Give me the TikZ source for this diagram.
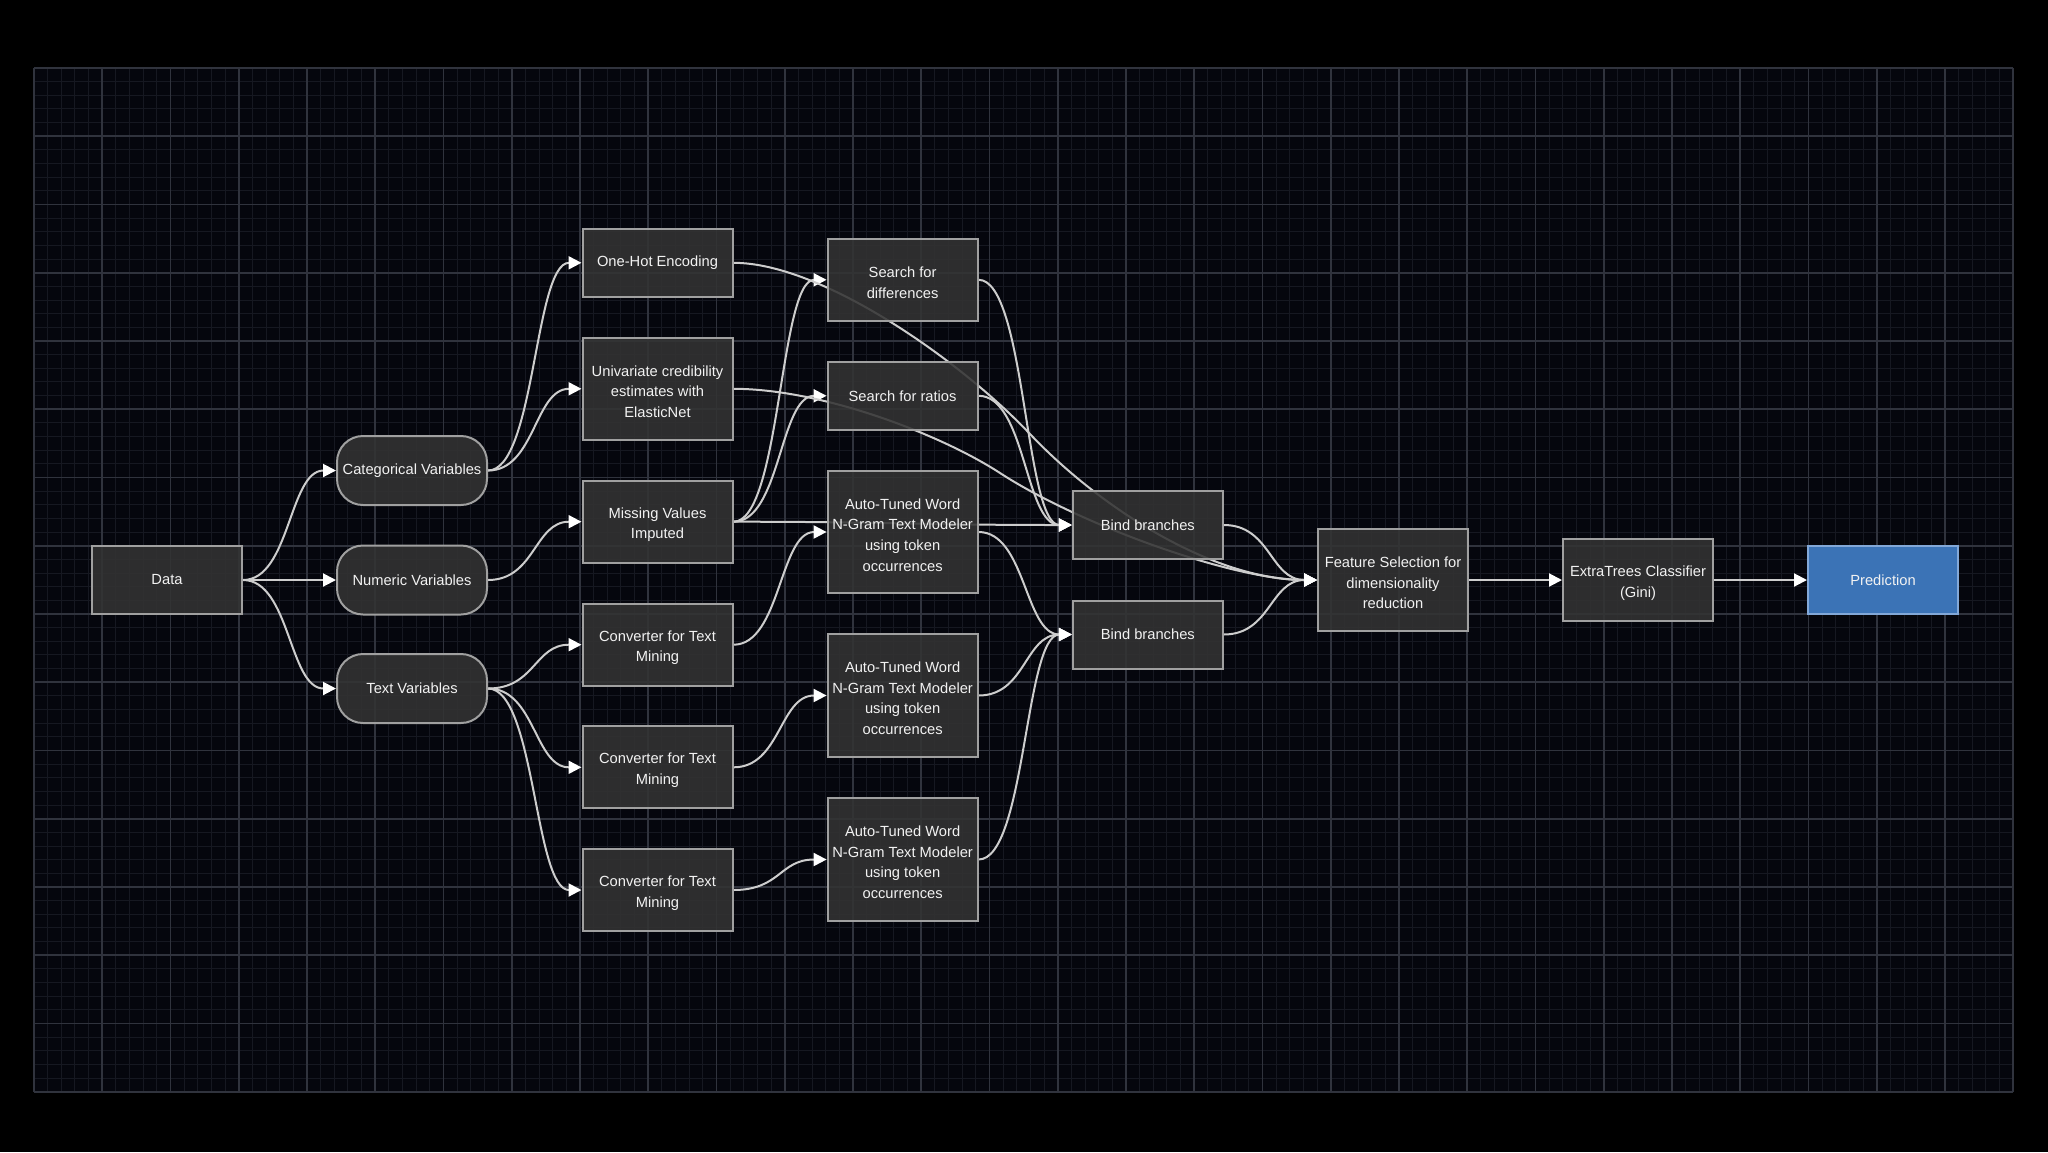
\documentclass[tikz,border=0pt]{standalone}
\usepackage{fontspec}
\setmainfont{Liberation Sans}
\usetikzlibrary{arrows.meta}
\definecolor{bgout}{HTML}{000000}
\definecolor{bggrid}{HTML}{05060D}
\definecolor{gminor}{HTML}{161821}
\definecolor{gmajor}{HTML}{30333D}
\definecolor{boxfill}{HTML}{333333}
\definecolor{boxline}{HTML}{A0A0A0}
\definecolor{edgecol}{HTML}{CDCDCD}
\definecolor{predfill}{HTML}{3B73B6}
\definecolor{predline}{HTML}{82A8D8}
\definecolor{txtcol}{HTML}{F2F2F2}
\newcommand{\toppad}{\rule{0pt}{8.2pt}}
\pgfdeclarelayer{bg}
\pgfdeclarelayer{edges}
\pgfsetlayers{bg,edges,main}
\begin{document}
\begin{tikzpicture}[x=0.5pt,y=-0.5pt,
  box/.style={draw=boxline, line width=1pt, fill=boxfill, fill opacity=0.88, text opacity=1, text=txtcol,
    minimum width=75pt, inner sep=0pt, align=center, font=\fontsize{7.35}{10.35}\selectfont},
  stadium/.style={box, rounded corners=13pt},
  predbox/.style={box, fill=predfill, draw=predline, fill opacity=1},
  edge/.style={draw=edgecol, line width=1pt, -{Triangle[length=6.5pt,width=6.5pt,color=white]}},
  minorline/.style={draw=gminor, line width=0.5pt},
  majorline/.style={draw=gmajor, line width=0.8pt}]
\useasboundingbox (0,0) rectangle (2048,1152);
\begin{pgfonlayer}{bg}
  \fill[bgout] (0,0) rectangle (2048,1152);
  \fill[bggrid] (34,68) rectangle (2013.25,1091.75);
  \foreach \i in {0,...,145} \draw[minorline] ({34+13.65*\i},68) -- ({34+13.65*\i},1091.75);
  \foreach \j in {0,...,75} \draw[minorline] (34,{68+13.65*\j}) -- (2013.25,{68+13.65*\j});
  \foreach \i in {0,...,29} \draw[majorline] ({34+68.25*\i},68) -- ({34+68.25*\i},1091.75);
  \foreach \j in {0,...,15} \draw[majorline] (34,{68+68.25*\j}) -- (2013.25,{68+68.25*\j});
\end{pgfonlayer}

% nodes
\node[box, minimum height=34pt] (data) at (167,580) {Data};
\node[stadium, minimum height=34.5pt] (cat) at (412,470.5) {Categorical Variables};
\node[stadium, minimum height=34.5pt] (num) at (412,580) {Numeric Variables};
\node[stadium, minimum height=34.5pt] (txt) at (412,688.5) {Text Variables};

\node[box, minimum height=34pt] (onehot) at (657.5,262.8) {One-Hot Encoding};
\node[box, minimum height=51pt] (univ) at (657.5,388.8) {\toppad Univariate credibility\\estimates with\\ElasticNet};
\node[box, minimum height=41pt] (miss) at (657.5,521.7) {\toppad Missing Values\\Imputed};
\node[box, minimum height=41pt] (conv1) at (657.5,644.7) {\toppad Converter for Text\\Mining};
\node[box, minimum height=41pt] (conv2) at (657.5,767.3) {\toppad Converter for Text\\Mining};
\node[box, minimum height=41pt] (conv3) at (657.5,890) {\toppad Converter for Text\\Mining};

\node[box, minimum height=41pt] (sdiff) at (902.6,279.8) {\toppad Search for\\differences};
\node[box, minimum height=34pt] (sratio) at (902.6,395.8) {Search for ratios};
\node[box, minimum height=61.3pt] (at1) at (902.6,532) {\toppad Auto-Tuned Word\\N-Gram Text Modeler\\using token\\occurrences};
\node[box, minimum height=61.3pt] (at2) at (902.6,695.5) {\toppad Auto-Tuned Word\\N-Gram Text Modeler\\using token\\occurrences};
\node[box, minimum height=61.3pt] (at3) at (902.6,859.5) {\toppad Auto-Tuned Word\\N-Gram Text Modeler\\using token\\occurrences};

\node[box, minimum height=34pt] (bind1) at (1147.8,525) {Bind branches};
\node[box, minimum height=34pt] (bind2) at (1147.8,634.5) {Bind branches};
\node[box, minimum height=51pt] (feat) at (1393,580) {\toppad Feature Selection for\\dimensionality\\reduction};
\node[box, minimum height=41pt] (xtree) at (1638,580) {\toppad ExtraTrees Classifier\\(Gini)};
\node[predbox, minimum height=34.3pt] (pred) at (1883,580) {Prediction};

\coordinate (m1) at (1030,434);
\coordinate (m2) at (1000,473);

\begin{pgfonlayer}{edges}
  \draw[edge] (data.east) .. controls +(47,0) and +(-47,0) .. (cat.west);
  \draw[edge] (data.east) -- (num.west);
  \draw[edge] (data.east) .. controls +(47,0) and +(-47,0) .. (txt.west);

  \draw[edge] (cat.east) .. controls +(47,0) and +(-47,0) .. (onehot.west);
  \draw[edge] (cat.east) .. controls +(47,0) and +(-47,0) .. (univ.west);
  \draw[edge] (num.east) .. controls +(47,0) and +(-47,0) .. (miss.west);
  \draw[edge] (txt.east) .. controls +(47,0) and +(-47,0) .. (conv1.west);
  \draw[edge] (txt.east) .. controls +(47,0) and +(-47,0) .. (conv2.west);
  \draw[edge] (txt.east) .. controls +(47,0) and +(-47,0) .. (conv3.west);

  \draw[edge] (miss.east) .. controls +(47,0) and +(-47,0) .. (sdiff.west);
  \draw[edge] (miss.east) .. controls +(47,0) and +(-47,0) .. (sratio.west);
  \draw[edge] (miss.east) .. controls +(150,0) and +(-150,0) .. (bind1.west);
  \draw[edge] (conv1.east) .. controls +(47,0) and +(-47,0) .. (at1.west);
  \draw[edge] (conv2.east) .. controls +(47,0) and +(-47,0) .. (at2.west);
  \draw[edge] (conv3.east) .. controls +(47,0) and +(-47,0) .. (at3.west);

  \draw[edge] (onehot.east) .. controls +(88,0) and (960,360) .. (m1) .. controls (1100,508) and +(-104,0) .. (feat.west);
  \draw[edge] (univ.east) .. controls +(88,0) and (940,434) .. (m2) .. controls (1080,525) and +(-84,0) .. (feat.west);

  \draw[edge] (sdiff.east) .. controls +(47,0) and +(-47,0) .. (bind1.west);
  \draw[edge] (sratio.east) .. controls +(47,0) and +(-47,0) .. (bind1.west);
  \draw[edge] (at1.east) .. controls +(47,0) and +(-47,0) .. (bind2.west);
  \draw[edge] (at2.east) .. controls +(47,0) and +(-47,0) .. (bind2.west);
  \draw[edge] (at3.east) .. controls +(47,0) and +(-47,0) .. (bind2.west);

  \draw[edge] (bind1.east) .. controls +(47,0) and +(-47,0) .. (feat.west);
  \draw[edge] (bind2.east) .. controls +(47,0) and +(-47,0) .. (feat.west);
  \draw[edge] (feat.east) -- (xtree.west);
  \draw[edge] (xtree.east) -- (pred.west);
\end{pgfonlayer}
\end{tikzpicture}
\end{document}
